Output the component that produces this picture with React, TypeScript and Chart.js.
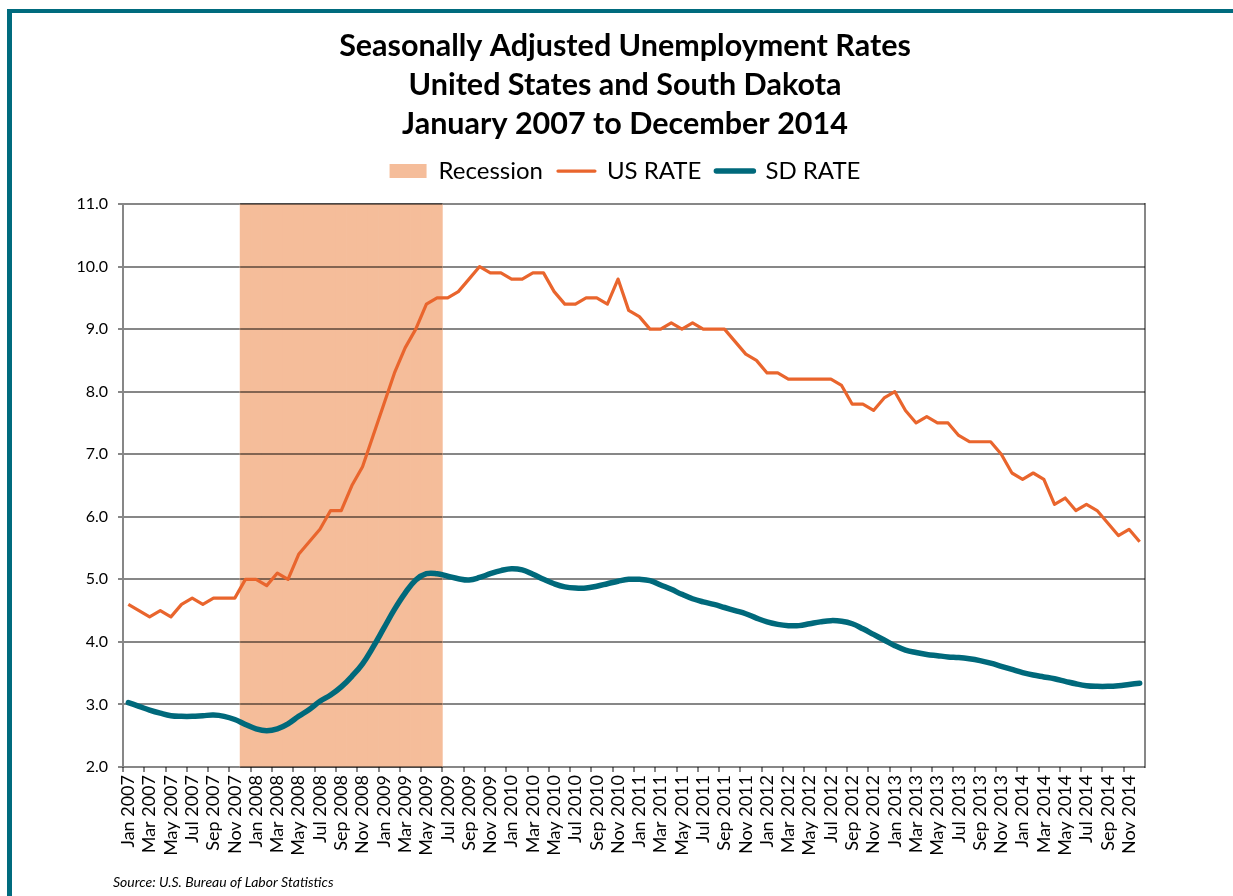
import React, { useEffect, useRef } from 'react';
import { Chart, registerables } from 'chart.js';

Chart.register(...registerables);

// ---------------- data ----------------
const MONTHS = ['Jan', 'Feb', 'Mar', 'Apr', 'May', 'Jun', 'Jul', 'Aug', 'Sep', 'Oct', 'Nov', 'Dec'];
const YEARS = [2007, 2008, 2009, 2010, 2011, 2012, 2013, 2014];
const LABELS = YEARS.flatMap((y) => MONTHS.map((m) => `${m} ${y}`));

const US_RATE = [
  4.6, 4.5, 4.4, 4.5, 4.4, 4.6, 4.7, 4.6, 4.7, 4.7, 4.7, 5.0,
  5.0, 4.9, 5.1, 5.0, 5.4, 5.6, 5.8, 6.1, 6.1, 6.5, 6.8, 7.3,
  7.8, 8.3, 8.7, 9.0, 9.4, 9.5, 9.5, 9.6, 9.8, 10.0, 9.9, 9.9,
  9.8, 9.8, 9.9, 9.9, 9.6, 9.4, 9.4, 9.5, 9.5, 9.4, 9.8, 9.3,
  9.2, 9.0, 9.0, 9.1, 9.0, 9.1, 9.0, 9.0, 9.0, 8.8, 8.6, 8.5,
  8.3, 8.3, 8.2, 8.2, 8.2, 8.2, 8.2, 8.1, 7.8, 7.8, 7.7, 7.9,
  8.0, 7.7, 7.5, 7.6, 7.5, 7.5, 7.3, 7.2, 7.2, 7.2, 7.0, 6.7,
  6.6, 6.7, 6.6, 6.2, 6.3, 6.1, 6.2, 6.1, 5.9, 5.7, 5.8, 5.6,
];

const SD_RATE = [
  3.03, 2.97, 2.91, 2.86, 2.82, 2.81, 2.81, 2.82, 2.83, 2.81, 2.76, 2.68,
  2.61, 2.58, 2.61, 2.69, 2.81, 2.92, 3.05, 3.15, 3.28, 3.45, 3.65, 3.92,
  4.22, 4.52, 4.78, 4.99, 5.09, 5.09, 5.05, 5.01, 4.99, 5.03, 5.09, 5.14,
  5.17, 5.15, 5.08, 5.0, 4.93, 4.88, 4.86, 4.86, 4.89, 4.93, 4.97, 5.0,
  5.0, 4.98, 4.91, 4.84, 4.76, 4.69, 4.64, 4.6, 4.55, 4.5, 4.45, 4.38,
  4.32, 4.28, 4.26, 4.26, 4.29, 4.32, 4.34, 4.33, 4.29, 4.21, 4.12, 4.03,
  3.94, 3.87, 3.83, 3.8, 3.78, 3.76, 3.75, 3.73, 3.7, 3.66, 3.61, 3.56,
  3.51, 3.47, 3.44, 3.41, 3.37, 3.33, 3.3, 3.29, 3.29, 3.3, 3.32, 3.34,
];

const RECESSION_START = 'Dec 2007';
const RECESSION_END = 'Jun 2009';
const Y_MIN = 2;
const Y_MAX = 11;
const Y_STEP = 1;

const TITLE_LINES = [
  'Seasonally Adjusted Unemployment Rates',
  'United States and South Dakota',
  'January 2007 to December 2014',
];
const SERIES_NAMES = ['Recession', 'US RATE', 'SD RATE'];
const SOURCE = 'Source: U.S. Bureau of Labor Statistics';

const recStart = LABELS.indexOf(RECESSION_START);
const recEnd = LABELS.indexOf(RECESSION_END);
const RECESSION = LABELS.map((_, i) => (i >= recStart && i <= recEnd ? [Y_MIN, Y_MAX] : null));

// ---------------- styles ----------------
const ORANGE = '#E9652D';
const TEAL = '#00697B';
const REC_COLOR = '#F5BD9A';
const GRID = 'rgba(0,0,0,0.47)';
const FRAME = '#006B7E';
const FONT = 'Lato';

const gridOverRecession = {
  id: 'gridOverRecession',
  afterDatasetDraw(chart: any, args: any) {
    if (args.index !== 0) return;
    const meta = chart.getDatasetMeta(0);
    let l = Infinity;
    let r = -Infinity;
    meta.data.forEach((el: any, i: number) => {
      if (RECESSION[i] == null) return;
      const p = el.getProps(['x', 'width'], true);
      l = Math.min(l, p.x - p.width / 2);
      r = Math.max(r, p.x + p.width / 2);
    });
    if (!isFinite(l)) return;
    const { ctx, chartArea } = chart;
    ctx.save();
    ctx.beginPath();
    ctx.rect(l, chartArea.top - 3, r - l, chartArea.bottom - chartArea.top + 6);
    ctx.clip();
    chart.scales.y.drawGrid(chartArea);
    ctx.restore();
  },
};

const sourceNote = {
  id: 'sourceNote',
  afterDraw(chart: any) {
    const { ctx } = chart;
    ctx.save();
    ctx.font = `italic 14px ${FONT}`;
    ctx.fillStyle = '#000';
    ctx.textAlign = 'left';
    ctx.textBaseline = 'middle';
    ctx.fillText(SOURCE, 113, 882);
    ctx.restore();
  },
};

export default function App() {
  const ref = useRef<HTMLCanvasElement | null>(null);

  useEffect(() => {
    if (!ref.current) return;
    Chart.defaults.font.family = FONT;
    const chart = new Chart(ref.current, {
      type: 'bar',
      data: {
        labels: LABELS,
        datasets: [
          {
            type: 'bar',
            label: SERIES_NAMES[0],
            data: RECESSION as any,
            backgroundColor: REC_COLOR,
            borderWidth: 0,
            barPercentage: 1,
            categoryPercentage: 1,
            grouped: false,
            order: 10,
          } as any,
          {
            type: 'line',
            label: SERIES_NAMES[1],
            data: US_RATE,
            borderColor: ORANGE,
            backgroundColor: ORANGE,
            borderWidth: 3.2,
            pointRadius: 0,
            tension: 0,
            borderJoinStyle: 'round',
            order: 2,
          } as any,
          {
            type: 'line',
            label: SERIES_NAMES[2],
            data: SD_RATE,
            borderColor: TEAL,
            backgroundColor: TEAL,
            borderWidth: 5.5,
            pointRadius: 0,
            tension: 0.4,
            borderCapStyle: 'round',
            borderJoinStyle: 'round',
            order: 1,
          } as any,
        ],
      },
      options: {
        responsive: false,
        animation: false,
        events: [],
        layout: { padding: { left: 17, right: 0, top: 0, bottom: 0 } },
        plugins: {
          tooltip: { enabled: false },
          title: {
            display: true,
            text: TITLE_LINES,
            color: '#000',
            font: { size: 30.5, weight: 'bold', lineHeight: 1.279 },
            padding: { top: 27, bottom: 0 },
          },
          subtitle: {
            display: true,
            text: ' ',
            font: { size: 1, lineHeight: 1 },
            padding: { top: 5, bottom: 5 },
            weight: 100,
          } as any,
          legend: {
            display: true,
            position: 'top',
            labels: {
              color: '#000',
              font: { size: 24 },
              padding: 15,
              usePointStyle: true,
              pointStyleWidth: 37,
              boxHeight: 14,
              generateLabels: (chart: any) =>
                chart.data.datasets.map((ds: any, i: number) => {
                  const isBar = ds.type === 'bar';
                  return {
                    text: ds.label,
                    fillStyle: isBar ? REC_COLOR : ds.borderColor,
                    strokeStyle: isBar ? REC_COLOR : ds.borderColor,
                    lineWidth: isBar ? 0 : ds.borderWidth,
                    lineCap: isBar ? 'butt' : 'round',
                    pointStyle: isBar ? 'rect' : 'line',
                    hidden: false,
                    datasetIndex: i,
                    fontColor: '#000',
                  };
                }),
            },
          } as any,
        },
        scales: {
          x: {
            type: 'category',
            offset: true,
            grid: {
              offset: true,
              drawOnChartArea: false,
              drawTicks: true,
              tickLength: 5,
              lineWidth: 2,
              color: (c: any) => (c.index % 2 === 0 ? GRID : 'rgba(0,0,0,0)'),
            },
            border: { display: false },
            ticks: {
              autoSkip: false,
              maxRotation: 90,
              minRotation: 90,
              padding: 3,
              color: '#000',
              font: { size: 18 },
              callback: (_v: any, i: number) => (i % 2 === 0 ? LABELS[i] : ''),
            },
            afterFit: (s: any) => {
              s.height = 129;
            },
          } as any,
          y: {
            type: 'linear',
            position: 'left',
            min: Y_MIN,
            max: Y_MAX,
            grid: { color: GRID, lineWidth: 2, tickLength: 5, drawTicks: true },
            border: { display: true, color: GRID, width: 2 },
            ticks: {
              stepSize: Y_STEP,
              padding: 10,
              color: '#000',
              font: { size: 16 },
              callback: (v: any) => Number(v).toFixed(1),
            },
            afterFit: (s: any) => {
              s.width = 106;
            },
          } as any,
          y2: {
            type: 'linear',
            position: 'right',
            min: Y_MIN,
            max: Y_MAX,
            grid: { drawOnChartArea: false, drawTicks: false },
            border: { display: true, color: GRID, width: 2 },
            ticks: { display: false },
            afterFit: (s: any) => {
              s.width = 88;
            },
          } as any,
        },
      },
      plugins: [gridOverRecession, sourceNote],
    });
    return () => chart.destroy();
  }, []);

  return (
    <div
      style={{
        position: 'absolute',
        left: 0,
        top: 0,
        width: 1233,
        height: 896,
        overflow: 'hidden',
        background: '#fff',
      }}
    >
      <div
        style={{
          position: 'absolute',
          left: 7,
          top: 9,
          width: 1400,
          height: 1100,
          borderTop: `4px solid ${FRAME}`,
          borderLeft: `5px solid ${FRAME}`,
        }}
      />
      <canvas
        ref={ref}
        width={1233}
        height={896}
        style={{ position: 'absolute', left: 0, top: 0 }}
      />
    </div>
  );
}
